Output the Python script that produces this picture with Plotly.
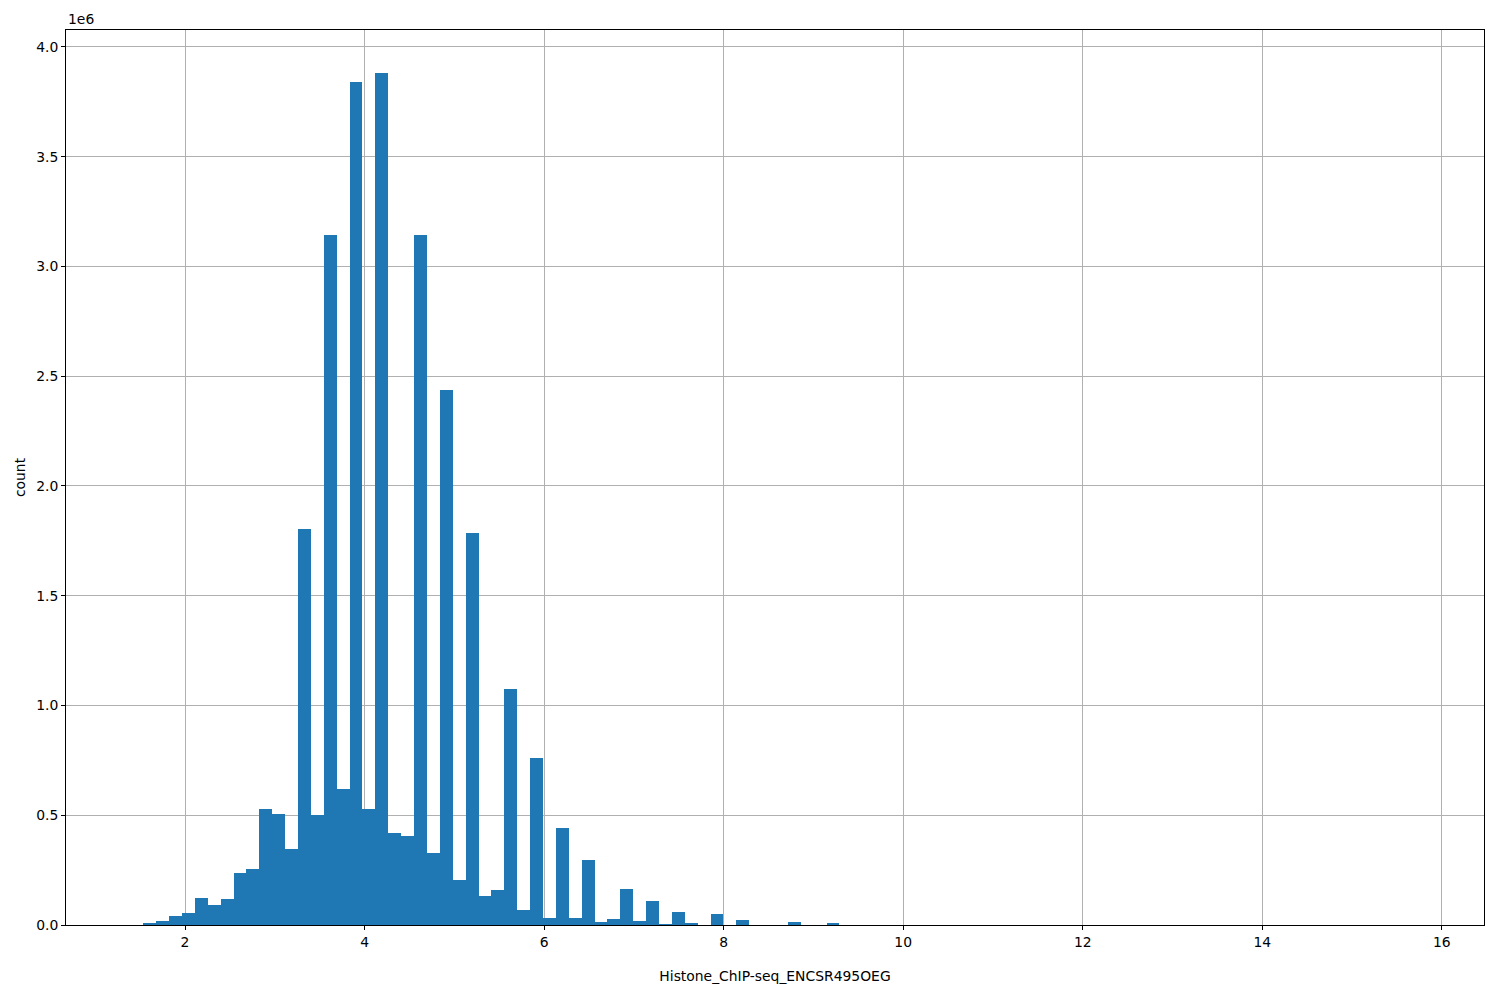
import numpy as np
import plotly.graph_objects as go

# Histogram data
bin_start = 1.392
bin_width = 0.1436
counts_millions = [
    0.0, 0.005, 0.018, 0.041, 0.055, 0.123, 0.091, 0.118, 0.237, 0.255,
    0.528, 0.506, 0.346, 1.804, 0.500, 3.143, 0.620, 3.840, 0.528, 3.880,
    0.419, 0.405, 3.143, 0.328, 2.437, 0.205, 1.786, 0.132, 0.159, 1.075,
    0.068, 0.761, 0.032, 0.442, 0.032, 0.296, 0.014, 0.027, 0.164, 0.018,
    0.109, 0.002, 0.059, 0.005, 0.0, 0.050, 0.0, 0.023, 0.0, 0.0,
    0.0, 0.012, 0.0, 0.0, 0.005,
]
counts_millions += [0.0] * (100 - len(counts_millions))
counts = np.array(counts_millions) * 1e6

x_ticks = [2, 4, 6, 8, 10, 12, 14, 16]
y_ticks = [0.0, 0.5, 1.0, 1.5, 2.0, 2.5, 3.0, 3.5, 4.0]
x_label = "Histone_ChIP-seq_ENCSR495OEG"
y_label = "count"

centers = bin_start + bin_width * (np.arange(len(counts)) + 0.5)

fig = go.Figure()
fig.add_trace(go.Bar(
    x=centers, y=counts, width=bin_width,
    marker=dict(color="#1f77b4", line=dict(width=0)),
    showlegend=False,
))

FS = 13.9
axis_common = dict(
    showline=True, linecolor="black", linewidth=1, mirror=True,
    ticks="outside", ticklen=4, tickwidth=1, tickcolor="black",
    showgrid=True, gridcolor="#b0b0b0", gridwidth=1,
    zeroline=False, layer="above traces",
    tickfont=dict(family="DejaVu Sans", size=FS, color="black"),
)

fig.update_layout(
    width=1500, height=1000,
    margin=dict(l=58, r=24, t=22, b=83),
    paper_bgcolor="white", plot_bgcolor="white",
    bargap=0,
    font=dict(family="DejaVu Sans", size=FS, color="black"),
    xaxis=dict(
        range=[0.674, 16.47], tickvals=x_ticks, ticktext=[str(v) for v in x_ticks],
        title=dict(text=x_label, standoff=22, font=dict(size=FS)),
        **axis_common,
    ),
    yaxis=dict(
        range=[0, 4.077e6], tickvals=[v * 1e6 for v in y_ticks],
        ticktext=[f"{v:.1f}" for v in y_ticks],
        title=dict(text=y_label, standoff=7, font=dict(size=FS)),
        **axis_common,
    ),
    annotations=[dict(
        text="1e6", xref="paper", yref="paper", x=0, y=1,
        xanchor="left", yanchor="bottom", showarrow=False,
        font=dict(family="DejaVu Sans", size=FS, color="black"), yshift=1,
    )],
)

fig.write_html("out.html")
